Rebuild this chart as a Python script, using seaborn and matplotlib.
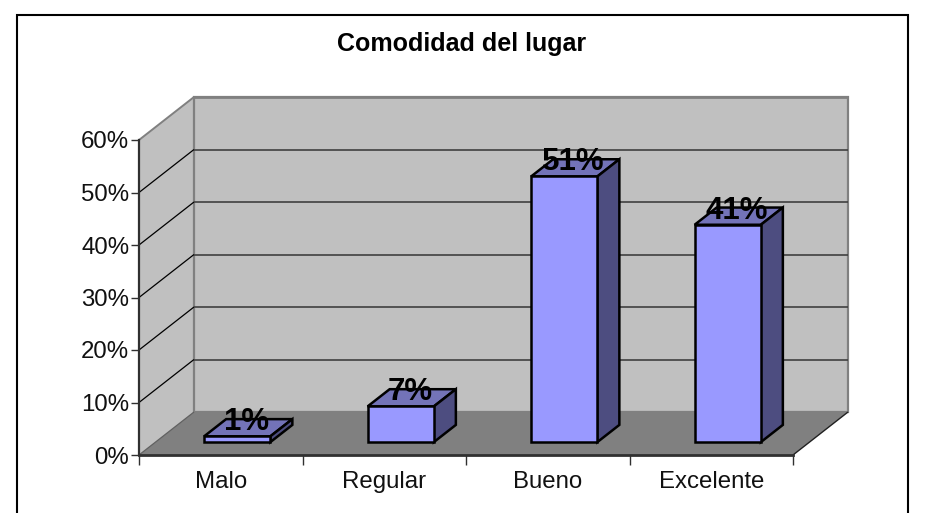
import matplotlib
matplotlib.use("Agg")
import matplotlib.pyplot as plt
from matplotlib.patches import Polygon, Rectangle
from matplotlib.transforms import Affine2D
from matplotlib.ticker import PercentFormatter
import numpy as np
import pandas as pd
import seaborn as sns

title = "Comodidad del lugar"
categories = ["Malo", "Regular", "Bueno", "Excelente"]
values = [1.1, 6.8, 50.6, 41.4]
y_ticks = [0, 10, 20, 30, 40, 50, 60]

sns.set_theme(style="white")
plt.rcParams["font.family"] = ["Liberation Sans", "DejaVu Sans"]

W, H = 937, 513
fig = plt.figure(figsize=(W / 100, H / 100), dpi=100, facecolor="white")
L, R, T, B = 139, 793, 140, 455
ax = fig.add_axes([L / W, 1 - B / H, (R - L) / W, (B - T) / H], facecolor="none")

df = pd.DataFrame({"cat": categories, "val": values})
sns.barplot(data=df, x="cat", y="val", ax=ax, color="#9999FF", saturation=1,
            width=0.405, edgecolor="black", linewidth=1.8, zorder=5)
ax.set_xlim(-0.5, 3.5)
ax.set_ylim(0, 60)
ax.set_xlabel("")
ax.set_ylabel("")

DX, DY = 55.0, 43.0          # full depth of the 3-D floor in pixels
bar_front, bar_back = 0.30, 0.70


def pts(seq):
    """(x, y, depth) in data units -> display pixels."""
    out = []
    for x, y, d in seq:
        px = ax.transData.transform((x, y))
        out.append((px[0] + DX * d, px[1] + DY * d))
    return np.array(out)


def face(seq, fc, ec="none", lw=0.0, z=1):
    p = Polygon(pts(seq), closed=True, facecolor=fc, edgecolor=ec, linewidth=lw,
                clip_on=False, joinstyle="miter")
    p.set_transform(Affine2D())
    fig.add_artist(p)
    p.set_zorder(z)
    return p


x0, x1 = -0.5, 3.5
y0, y1 = 0, 60
# walls and floor are figure artists, drawn below the axes
WALL, FLOOR, EDGE = "#C0C0C0", "#808080", "#808080"
face([(x0, y0, 0), (x0, y1, 0), (x0, y1, 1), (x0, y0, 1)], WALL, z=-3)
face([(x0, y0, 1), (x1, y0, 1), (x1, y1, 1), (x0, y1, 1)], WALL, ec=EDGE, lw=1.6, z=-3)
face([(x0, y0, 0), (x1, y0, 0), (x1, y0, 1), (x0, y0, 1)], FLOOR, z=-2)

# outline of the chart area
fig.add_artist(Rectangle((16.5, -4), 891, H + 4 - 14.5, transform=Affine2D(),
                         facecolor="none", edgecolor="#000000", linewidth=1.5, zorder=-5))


def seg(a, b, color, lw, z=-1):
    p = pts([a, b])
    fig.add_artist(plt.Line2D(p[:, 0], p[:, 1], color=color, linewidth=lw,
                              transform=Affine2D(), zorder=z, solid_capstyle="butt"))


for t in y_ticks[1:-1]:
    seg((x0, t, 0), (x0, t, 1), "#000000", 0.9)
    seg((x0, t, 1), (x1, t, 1), "#404040", 1.2)
seg((x0, y1, 0), (x0, y1, 1), "#808080", 1.4)
seg((x0, y1, 1), (x1, y1, 1), "#808080", 2.0)
seg((x0, y0, 0), (x0, y0, 1), "#606060", 0.9)
seg((x1, y0, 0), (x1, y0, 1), "#202020", 1.0)

# extruded bars: shift seaborn's bars to their depth and add top and side
offset = Affine2D().translate(DX * bar_front, DY * bar_front)
for patch, v in zip(ax.patches, values):
    left, w = patch.get_x(), patch.get_width()
    right = left + w
    patch.set_transform(ax.transData + offset)
    patch.set_clip_on(False)
    for poly, color in (
        ([(left, v, bar_front), (right, v, bar_front), (right, v, bar_back), (left, v, bar_back)], "#7373B8"),
        ([(right, 0, bar_front), (right, v, bar_front), (right, v, bar_back), (right, 0, bar_back)], "#4D4D80"),
    ):
        p = Polygon(pts(poly), closed=True, facecolor=color, edgecolor="black", linewidth=1.8,
                    clip_on=False, joinstyle="miter")
        ax.add_patch(p)
        p.set_transform(Affine2D())
        p.set_zorder(4)
    lx = pts([(left + w / 2, v, (bar_front + bar_back) / 2)])[0]
    ax.text(lx[0] - 2, lx[1] + 5.5, f"{round(v)}%", transform=Affine2D(), ha="center", va="center",
            fontsize=22.5, fontweight="bold", color="black", zorder=10, clip_on=False)

for s in ("top", "right"):
    ax.spines[s].set_visible(False)
ax.spines["left"].set(visible=True, linewidth=1.6, color="#303030", zorder=3)
ax.spines["bottom"].set(visible=True, linewidth=2.0, color="#303030", zorder=3)

ax.yaxis.set_major_formatter(PercentFormatter(decimals=0))
ax.set_yticks(y_ticks)
ax.set_xticks([-0.5, 0.5, 1.5, 2.5, 3.5])
ax.set_xticks([0, 1, 2, 3], categories, minor=True)
ax.tick_params(axis="x", which="major", length=7, width=1, color="#303030", labelbottom=False, bottom=True)
ax.tick_params(axis="x", which="minor", length=0, pad=11.5, labelsize=17.3, labelcolor="#111111", bottom=False)
ax.tick_params(axis="y", length=6, width=1, color="#303030", labelsize=17.3, pad=1, labelcolor="#111111", left=True)

fig.text(462 / W, 1 - 44.5 / H, title, ha="center", va="center", fontsize=18, fontweight="bold", color="black")

fig.savefig("out.png", dpi=100, facecolor="white")
